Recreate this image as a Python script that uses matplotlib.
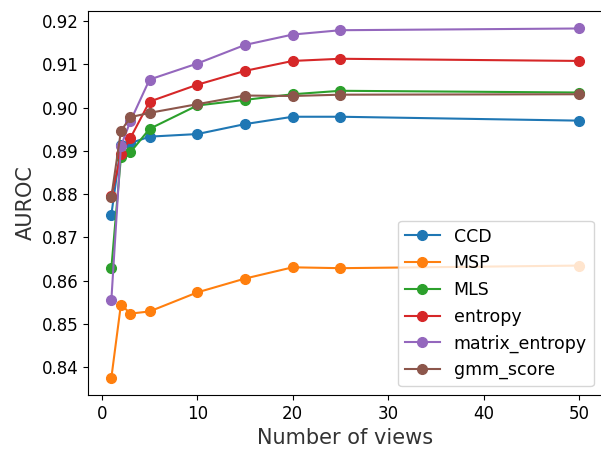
import matplotlib
matplotlib.use('Agg')
import matplotlib.pyplot as plt

views = [1, 2, 3, 5, 10, 15, 20, 25, 50]

ccd = [0.8753, 0.8913, 0.8918, 0.8933, 0.8939, 0.8962, 0.8979, 0.8979, 0.8970]
msp = [0.8376, 0.8545, 0.8524, 0.8529, 0.8573, 0.8605, 0.8631, 0.8629, 0.8635]
mls = [0.8629, 0.8886, 0.8897, 0.8951, 0.9005, 0.9018, 0.9031, 0.9039, 0.9035]
entropy = [0.8795, 0.8892, 0.8930, 0.9014, 0.9053, 0.9085, 0.9108, 0.9113, 0.9108]
matrix_entropy = [0.8556, 0.8911, 0.8969, 0.9065, 0.9102, 0.9145, 0.9169, 0.9179, 0.9183]
gmm_score = [0.8794, 0.8946, 0.8978, 0.8988, 0.9008, 0.9028, 0.9027, 0.9030, 0.9031]

series = [('CCD', ccd), ('MSP', msp), ('MLS', mls), ('entropy', entropy),
          ('matrix_entropy', matrix_entropy), ('gmm_score', gmm_score)]

fig = plt.figure(figsize=(6.01, 4.5), dpi=100)
ax = fig.add_axes([0.1464, 0.122, 0.856, 0.8535])

for name, vals in series:
    ax.plot(views, vals, marker='o', markersize=7, linewidth=1.5, label=name)

ax.set_xlabel('Number of views', fontsize=15, color='#333333')
ax.set_ylabel('AUROC', fontsize=15, color='#333333')
ax.tick_params(labelsize=12)
ax.set_yticks([0.84, 0.85, 0.86, 0.87, 0.88, 0.89, 0.90, 0.91, 0.92])
ax.set_xticks([0, 10, 20, 30, 40, 50])
ax.legend(loc='lower right', fontsize=12.5)

fig.savefig('out.png', dpi=100)
